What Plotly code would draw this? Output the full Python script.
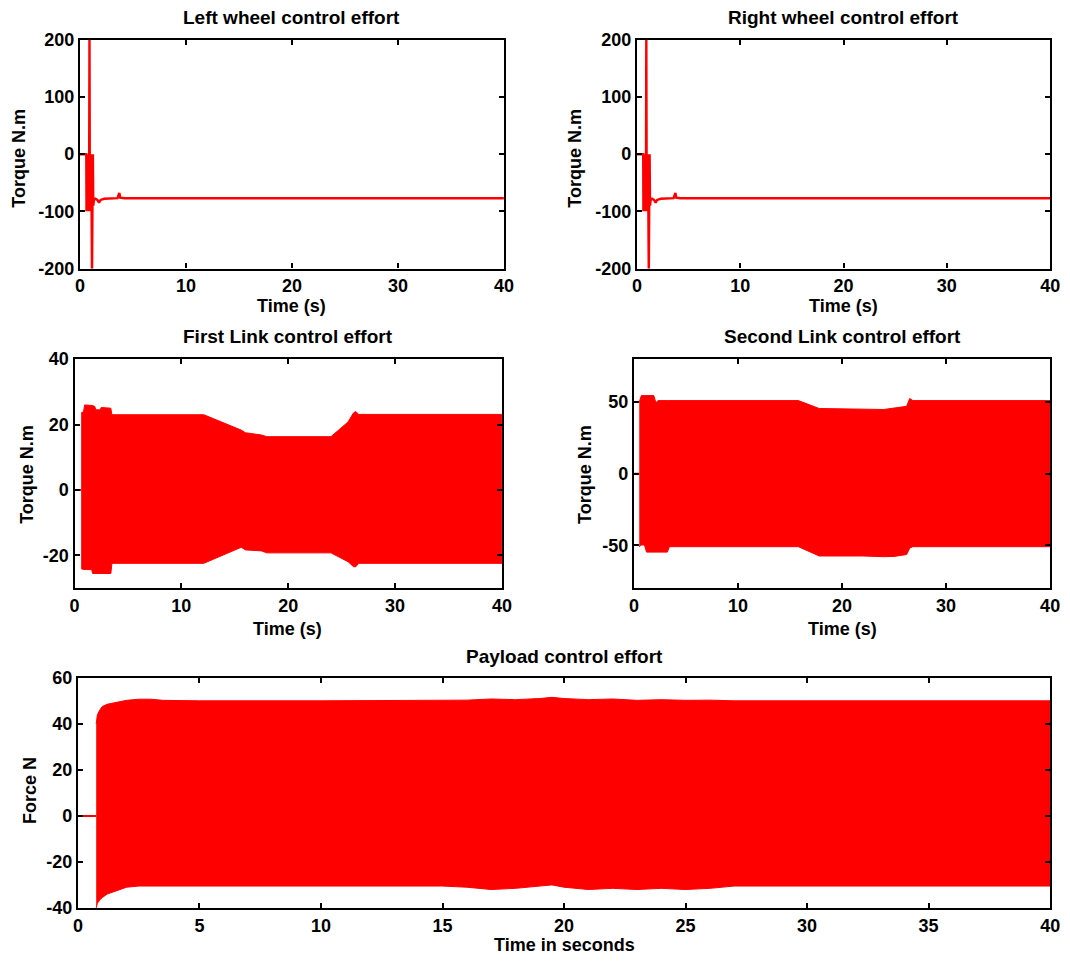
import plotly.graph_objects as go

RED = "rgb(255,0,0)"

# ---------------- Data ----------------
# Wheel control efforts (line)
wheel_t = [0, 0.60, 0.62, 0.66, 0.70, 0.74, 0.78, 0.82, 0.86, 0.90, 0.94, 0.98, 1.02,
           1.06, 1.10, 1.14, 1.18, 1.22, 1.26, 1.32, 1.45, 1.65, 1.80, 1.95, 2.3,
           3.0, 3.55, 3.65, 3.72, 3.80, 4.2, 10, 16, 16.5, 20, 26, 26.5, 30, 40]
left_wheel = [0, 0, -100, 0, -100, 0, -100, 0, -100, 215, -100, 0, -100,
              0, -100, -215, -100, 0, -90, -80, -78, -80, -85, -80, -78,
              -77, -77, -71, -68, -76, -77, -77, -77, -78, -78, -78, -77, -77, -77]
right_wheel = [0, 0, -100, 0, -100, 0, -100, 0, -100, 215, -100, 0, -100,
               0, -100, -215, -100, 0, -90, -80, -78, -80, -85, -80, -78,
               -77, -77, -71, -68, -76, -77, -77, -77, -78, -78, -78, -77, -77, -77]

# First link: zero before start, then envelope of dense oscillation
link1_zero_t = [0, 0.62]
link1_t = [0.62, 0.85, 0.95, 1.6, 1.7, 1.9, 2.0, 2.4, 2.5, 3.4, 3.5, 12.1,
           15.6, 16.0, 17.5, 18.0, 24.0, 25.6, 26.1, 26.3, 26.6, 40]
link1_upper = [23.5, 24, 26, 26, 25.8, 25.5, 24.5, 24.5, 25.2, 25, 23, 23,
               18.3, 17.5, 16.8, 16.3, 16.3, 20.8, 23.5, 24, 23.1, 23.1]
link1_lower = [-24, -24.3, -24.3, -24.3, -25.5, -25.5, -25.5, -25.5, -25.5, -25.5, -22.4, -22.4,
               -17.5, -18.3, -18.6, -19.2, -19.2, -21.9, -23.4, -23.5, -22.4, -22.4]

# Second link
link2_zero_t = [0, 0.5]
link2_t = [0.5, 0.7, 1.0, 1.2, 1.9, 2.1, 2.3, 3.2, 3.4, 15.8, 17.8, 22.0,
           24.0, 25.0, 26.2, 26.5, 26.8, 40]
link2_upper = [50, 54.5, 54.5, 54.5, 54.5, 49.5, 51, 51, 51, 51, 45.5, 45.3,
               44.8, 45.8, 47, 52.5, 51, 51]
link2_lower = [-51, -49.8, -49.8, -54.8, -54.8, -54.8, -54.8, -54.8, -51, -51, -57.5, -57.5,
               -58, -57.8, -56.5, -52, -51, -51]

# Payload
pay_zero_t = [0, 0.75]
pay_t = [0.75, 0.8, 0.9, 1.0, 1.2, 1.4, 1.7, 2.0, 2.5, 3.0, 3.5, 5, 10, 15, 16, 17,
         18, 19, 19.5, 20, 21, 22, 23, 24, 25, 26, 27, 30, 35, 40]
pay_upper = [40, 44, 46, 47.5, 48.5, 49, 49.5, 50.2, 50.7, 50.7, 50.2, 50, 50, 50, 50.3, 50.8,
             50.5, 51, 51.5, 51, 50.5, 50.8, 50.2, 50.5, 50.2, 50.3, 50, 50, 50, 50]
pay_lower = [-40, -38, -36.5, -35.5, -34, -33, -32, -31, -30.5, -30.3, -30.5, -30.5, -30.5, -30.5, -31, -32,
             -31.5, -30.5, -30, -31, -32, -31.5, -32, -31.5, -32, -31.5, -30.5, -30.5, -30.5, -30.5]

# Tick labels
time_ticks = [0, 10, 20, 30, 40]
pay_time_ticks = [0, 5, 10, 15, 20, 25, 30, 35, 40]
wheel_yticks = [-200, -100, 0, 100, 200]
link1_yticks = [-20, 0, 20, 40]
link2_yticks = [-50, 0, 50]
pay_yticks = [-40, -20, 0, 20, 40, 60]

titles = ["Left wheel control effort", "Right wheel control effort",
          "First Link control effort", "Second Link control effort",
          "Payload control effort"]

# ---------------- Figure ----------------
W, H = 1070, 961
fig = go.Figure()


def band(t, up, lo, xa, ya):
    fig.add_trace(go.Scatter(x=t + t[::-1], y=up + lo[::-1], fill="toself",
                             fillcolor=RED, mode="lines",
                             line=dict(color=RED, width=1),
                             xaxis=xa, yaxis=ya, hoverinfo="skip"))


def zero_line(t, xa, ya):
    fig.add_trace(go.Scatter(x=t, y=[0] * len(t), mode="lines",
                             line=dict(color=RED, width=2), xaxis=xa, yaxis=ya))


fig.add_trace(go.Scatter(x=wheel_t, y=left_wheel, mode="lines",
                         line=dict(color=RED, width=2.4), xaxis="x", yaxis="y"))
fig.add_trace(go.Scatter(x=wheel_t, y=right_wheel, mode="lines",
                         line=dict(color=RED, width=2.4), xaxis="x2", yaxis="y2"))
zero_line(link1_zero_t, "x3", "y3")
band(link1_t, link1_upper, link1_lower, "x3", "y3")
zero_line(link2_zero_t, "x4", "y4")
band(link2_t, link2_upper, link2_lower, "x4", "y4")
zero_line(pay_zero_t, "x5", "y5")
band(pay_t, pay_upper, pay_lower, "x5", "y5")


def px_x(a, b):
    return [a / W, b / W]


def px_y(top, bottom):
    return [1 - bottom / H, 1 - top / H]


def lab(v):
    return [str(x) for x in v]


axis_common = dict(showline=True, linecolor="black", linewidth=2.2, mirror="ticks",
                   ticks="inside", ticklen=5, tickwidth=2, tickcolor="black",
                   showgrid=False, zeroline=False, fixedrange=True)

boxes = [
    (px_x(76, 506), px_y(30.5, 264), [0, 40], [-200, 200], time_ticks, wheel_yticks),
    (px_x(641, 1060), px_y(30.5, 264), [0, 40], [-200, 200], time_ticks, wheel_yticks),
    (px_x(70.5, 504), px_y(356.5, 590.5), [0, 40], [-30, 40], time_ticks, link1_yticks),
    (px_x(638, 1060), px_y(356.5, 590.5), [0, 40], [-80, 80], time_ticks, link2_yticks),
    (px_x(74, 1060), px_y(682, 917), [0, 40], [-40, 60], pay_time_ticks, pay_yticks),
]

layout = dict(width=W, height=H, margin=dict(l=0, r=0, t=0, b=0),
              paper_bgcolor="white", plot_bgcolor="white", showlegend=False,
              font=dict(family="Liberation Sans, Arial, Helvetica, sans-serif",
                        size=18, color="black", weight="bold"))
for i, (xd, yd, xr, yr, xt, yt) in enumerate(boxes, start=1):
    s = "" if i == 1 else str(i)
    layout["xaxis" + s] = dict(domain=xd, range=xr, anchor="y" + s,
                               tickvals=xt, ticktext=lab(xt), **axis_common)
    layout["yaxis" + s] = dict(domain=yd, range=yr, anchor="x" + s,
                               tickvals=yt, ticktext=lab(yt), **axis_common)

fig.update_layout(**layout)

# Text annotations (titles and axis labels)
ann = []
title_pos = [(291, 8), (850, 8), (287, 333), (849, 333), (567, 660)]
for txt, (x, y) in zip(titles, title_pos):
    ann.append(dict(text=txt, x=x / W, y=1 - y / H, xref="paper", yref="paper",
                    showarrow=False, xanchor="center", yanchor="middle",
                    font=dict(size=19)))
xlab_pos = [("Time (s)", 291, 302), ("Time (s)", 850, 302), ("Time (s)", 287, 632),
            ("Time (s)", 849, 632), ("Time in seconds", 567, 955)]
for txt, x, y in xlab_pos:
    ann.append(dict(text=txt, x=x / W, y=1 - y / H, xref="paper", yref="paper",
                    showarrow=False, xanchor="center", yanchor="middle"))
ylab_pos = [("Torque N.m", 14, 151), ("Torque N.m", 578, 151), ("Torque N.m", 22, 474),
            ("Torque N.m", 588, 474), ("Force N", 26, 797)]
for txt, x, y in ylab_pos:
    ann.append(dict(text=txt, x=x / W, y=1 - y / H, xref="paper", yref="paper",
                    showarrow=False, xanchor="center", yanchor="middle", textangle=-90))
fig.update_layout(annotations=ann)

fig.write_html("out.html")
